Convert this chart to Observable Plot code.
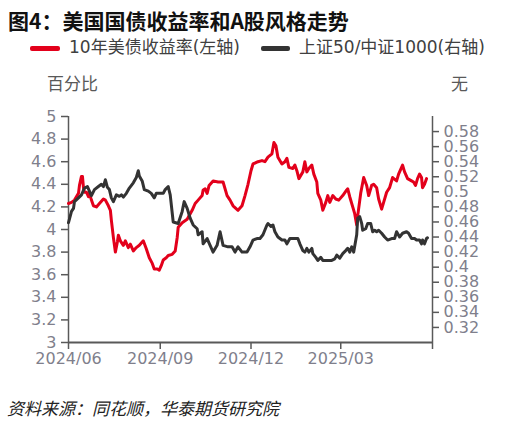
<!DOCTYPE html>
<html><head><meta charset="utf-8">
<script src="https://cdn.jsdelivr.net/npm/d3@7"></script>
<script src="https://cdn.jsdelivr.net/npm/@observablehq/plot@0.6"></script>
<style>
body{margin:0;background:#fff;width:519px;height:426px;position:relative;overflow:hidden;font-family:"Noto Sans","Noto Sans CJK SC",sans-serif;}
.abs{position:absolute;white-space:nowrap;line-height:1;}
#title{left:8px;top:10px;font-size:21px;font-weight:bold;color:#111;font-family:"Noto Sans CJK SC",sans-serif;}
.sw{position:absolute;height:5px;border-radius:2px;}
.lg{font-size:17px;color:#404040;font-family:"DejaVu Sans","Noto Sans CJK SC",sans-serif;}
.unit{font-size:17px;color:#595959;font-family:"Noto Sans CJK SC",sans-serif;}
#caption{left:7px;top:399px;font-size:17px;font-style:italic;color:#222;font-family:"Noto Sans CJK SC",sans-serif;}
#chart{position:absolute;left:0;top:100px;}
</style></head>
<body>
<div id="title" class="abs">图4：美国国债收益率和A股风格走势</div>
<div class="sw" style="left:30px;top:46px;width:30px;background:#e3001b"></div>
<div class="abs lg" style="left:69px;top:39px">10年美债收益率(左轴)</div>
<div class="sw" style="left:261px;top:46px;width:29px;background:#333"></div>
<div class="abs lg" style="left:299px;top:39px">上证50/中证1000(右轴)</div>
<div class="abs unit" style="left:47px;top:74px">百分比</div>
<div class="abs unit" style="left:451px;top:74px">无</div>
<div id="chart"></div>
<div id="caption" class="abs">资料来源：同花顺，华泰期货研究院</div>
<script>
const startDate = "2024-06-01";
const endDate = "2025-06-01";
const redDays = [0,3,6,10,11,13,14,15,16,18,20,21,23,25,28,31,35,37,40,42,43,45,47,49,50,52,55,57,60,62,65,68,71,75,78,81,84,86,89,91,93,95,98,100,104,107,109,110,114,119,124,127,130,134,135,137,139,141,145,150,155,159,162,165,170,174,177,180,183,185,190,194,197,200,204,206,208,210,214,217,219,221,225,227,229,231,235,237,239,241,244,246,249,250,253,255,258,260,262,265,268,271,275,279,280,282,285,287,289,290,293,296,299,301,304,306,309,311,314,316,319,322,325,329,331,335,337,340,344,346,348,350,352,354,355,357,359];
const redValues = [4.23,4.24,4.26,4.32,4.39,4.47,4.47,4.37,4.33,4.33,4.29,4.32,4.26,4.21,4.20,4.23,4.27,4.26,4.21,4.17,4.08,3.93,3.80,3.89,3.95,3.90,3.86,3.90,3.84,3.87,3.81,3.84,3.86,3.90,3.83,3.75,3.70,3.65,3.65,3.64,3.68,3.73,3.75,3.77,3.78,3.81,3.93,4.02,4.06,4.09,4.17,4.23,4.26,4.30,4.35,4.36,4.32,4.39,4.43,4.42,4.42,4.30,4.26,4.21,4.17,4.21,4.30,4.40,4.52,4.58,4.60,4.61,4.60,4.64,4.67,4.77,4.74,4.64,4.58,4.60,4.63,4.55,4.54,4.57,4.52,4.45,4.51,4.60,4.51,4.54,4.57,4.49,4.42,4.32,4.26,4.17,4.24,4.30,4.24,4.30,4.27,4.26,4.30,4.35,4.36,4.29,4.20,4.14,4.04,4.12,4.32,4.46,4.39,4.30,4.39,4.40,4.37,4.27,4.18,4.24,4.33,4.37,4.46,4.43,4.49,4.57,4.51,4.45,4.43,4.42,4.39,4.45,4.49,4.46,4.37,4.40,4.45];
const blackDays = [0,3,5,6,10,13,16,19,21,23,26,30,33,35,37,39,41,43,45,48,51,53,55,58,61,65,68,70,71,74,76,80,83,86,88,91,95,97,100,102,105,110,114,116,119,122,125,129,130,134,135,139,142,145,149,152,155,160,164,167,170,174,179,182,185,189,192,195,199,200,203,205,207,210,214,217,219,222,225,230,232,235,237,239,241,244,245,248,250,253,255,264,267,269,272,275,278,280,282,284,286,289,290,292,294,295,298,300,303,305,307,309,311,314,317,320,324,327,329,332,335,339,341,344,347,349,352,354,355,357,359,360];
const blackValues = [0.459,0.474,0.478,0.487,0.492,0.496,0.505,0.507,0.501,0.495,0.503,0.507,0.510,0.507,0.516,0.506,0.503,0.492,0.487,0.496,0.494,0.496,0.493,0.498,0.505,0.512,0.519,0.528,0.521,0.514,0.503,0.501,0.498,0.492,0.498,0.498,0.498,0.503,0.507,0.496,0.460,0.458,0.474,0.487,0.478,0.465,0.456,0.451,0.443,0.447,0.431,0.438,0.429,0.420,0.429,0.447,0.429,0.427,0.427,0.420,0.427,0.420,0.420,0.427,0.436,0.438,0.438,0.443,0.456,0.458,0.454,0.456,0.447,0.440,0.436,0.436,0.431,0.438,0.438,0.438,0.431,0.422,0.420,0.425,0.420,0.425,0.418,0.413,0.409,0.413,0.409,0.409,0.411,0.416,0.412,0.418,0.422,0.425,0.420,0.427,0.420,0.443,0.465,0.467,0.458,0.449,0.451,0.458,0.458,0.447,0.449,0.447,0.449,0.445,0.440,0.436,0.438,0.438,0.447,0.440,0.445,0.447,0.445,0.438,0.438,0.436,0.436,0.431,0.436,0.431,0.438,0.439];
const leftTicks = [3,3.2,3.4,3.6,3.8,4,4.2,4.4,4.6,4.8,5];
const rightTicks = [0.32,0.34,0.36,0.38,0.4,0.42,0.44,0.46,0.48,0.5,0.52,0.54,0.56,0.58];
const leftDomain = [3,5];
const rightDomain = [0.3,0.6];
const xTickDates = ["2024-06-01","2024-09-01","2024-12-01","2025-03-01","2025-06-01"];
const xTickLabels = ["2024/06","2024/09","2024/12","2025/03",""];

const base = new Date(startDate);
const toDate = d => d3.utcDay.offset(base, d);
const toLeft = v => leftDomain[0] + (v - rightDomain[0]) / (rightDomain[1] - rightDomain[0]) * (leftDomain[1] - leftDomain[0]);
const fromLeft = y => rightDomain[0] + (y - leftDomain[0]) / (leftDomain[1] - leftDomain[0]) * (rightDomain[1] - rightDomain[0]);

const red = redDays.map((d, i) => ({date: toDate(d), value: redValues[i]}));
const black = blackDays.map((d, i) => ({date: toDate(d), value: toLeft(blackValues[i])}));
const xTicks = xTickDates.map(s => new Date(s));
const labelMap = new Map(xTicks.map((t, i) => [+t, xTickLabels[i]]));
const x0 = new Date(startDate), x1 = new Date(endDate);

const axisColor = "#595959";
const textColor = "#7f7f8c";

const chart = Plot.plot({
  width: 519, height: 280,
  marginLeft: 68, marginRight: 87, marginTop: 16, marginBottom: 38,
  style: {fontFamily: "DejaVu Sans, sans-serif", fontSize: "16px", background: "transparent", overflow: "visible"},
  x: {type: "utc", domain: [x0, x1]},
  y: {domain: leftDomain},
  marks: [
    Plot.ruleX([x0], {y1: leftDomain[0], y2: leftDomain[1], stroke: axisColor, strokeWidth: 1.5}),
    Plot.ruleX([x1], {y1: leftDomain[0], y2: leftDomain[1], stroke: axisColor, strokeWidth: 1.5}),
    Plot.line(red, {x: "date", y: "value", stroke: "#e3001b", strokeWidth: 3, strokeLinejoin: "round"}),
    Plot.line(black, {x: "date", y: "value", stroke: "#333333", strokeWidth: 3, strokeLinejoin: "round"}),
    Plot.ruleY([leftDomain[0]], {stroke: axisColor, strokeWidth: 2}),
    Plot.axisY(leftTicks, {anchor: "left", tickSize: 7, tickPadding: 5, stroke: axisColor, strokeWidth: 1.5, fill: textColor, tickFormat: d => String(d), label: null}),
    Plot.axisY(rightTicks.map(toLeft), {anchor: "right", tickSize: 6, tickPadding: 5, stroke: axisColor, strokeWidth: 1.5, fill: textColor, tickFormat: d => String(+fromLeft(d).toFixed(2)), label: null}),
    Plot.axisX(xTicks, {anchor: "bottom", tickSize: 7, tickPadding: 3, stroke: axisColor, strokeWidth: 1.5, fill: textColor, tickFormat: d => labelMap.get(+d), label: null})
  ]
});
document.getElementById("chart").appendChild(chart);
</script>
</body></html>
